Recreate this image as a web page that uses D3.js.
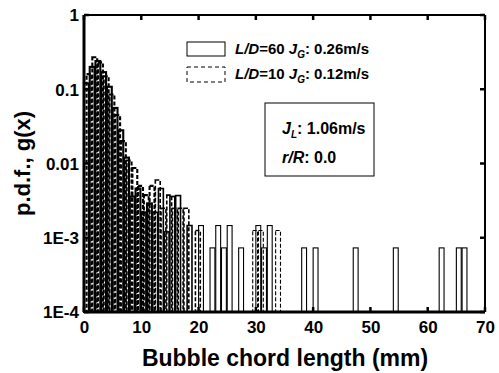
<!DOCTYPE html>
<html>
<head>
<meta charset="utf-8">
<script src="https://cdn.jsdelivr.net/npm/d3@7"></script>
<style>
  html, body { margin: 0; padding: 0; background: #fff; }
  svg { display: block; font-family: "Liberation Sans", Arial, Helvetica, sans-serif; }
</style>
</head>
<body>
<svg id="chart" width="499" height="373"></svg>
<script>
// ---- data (bin start in mm, 1 mm bins) ----
const solidBins   = [0, 1, 2, 3, 4, 5, 6, 7, 8, 9, 10, 11, 12, 13, 14, 15, 16, 18, 20, 22, 23, 24, 25, 27, 30, 31, 32, 38, 40, 47, 54, 62, 65, 66];
const solidValues = [0.12, 0.20, 0.24, 0.17, 0.108, 0.056, 0.028, 0.012, 0.0036, 0.0046, 0.0022, 0.0029, 0.0022, 0.0046, 0.0012, 0.0036, 0.0037, 0.00146, 0.00146, 0.00073, 0.00146, 0.00073, 0.00146, 0.00073, 0.00146, 0.00073, 0.00146, 0.00073, 0.00073, 0.00073, 0.00073, 0.00073, 0.00073, 0.00073];
const dashedBins   = [0, 1, 2, 3, 4, 5, 6, 7, 8, 9, 10, 11, 12, 13, 14, 15, 16, 17, 19, 29, 30, 33];
const dashedValues = [0.16, 0.27, 0.23, 0.15, 0.085, 0.045, 0.02, 0.011, 0.0087, 0.005, 0.00375, 0.005, 0.006, 0.0025, 0.00375, 0.0025, 0.0025, 0.0025, 0.00125, 0.00125, 0.00125, 0.00125];
const xTickValues = [0, 10, 20, 30, 40, 50, 60, 70];
const yTickValues = [1, 0.1, 0.01, 0.001, 0.0001];
const yTickLabels = ["1", "0.1", "0.01", "1E-3", "1E-4"];

const svg = d3.select("#chart");
const L = 84, R = 485, T = 15, B = 312;
const x = d3.scaleLinear().domain([0, 70]).range([L, R]);
const y = d3.scaleLog().domain([1e-4, 1]).range([B, T]);
const barW = 0.85;

// bars
const g = svg.append("g");
g.selectAll("rect.solid").data(solidBins.map((b, i) => ({b, v: solidValues[i]})))
  .enter().append("rect").attr("class", "solid")
  .attr("x", d => x(d.b))
  .attr("width", x(barW) - x(0))
  .attr("y", d => y(d.v))
  .attr("height", d => y(1e-4) - y(d.v))
  .attr("fill", "none").attr("stroke", "#000")
  .attr("stroke-width", d => d.b < 12 ? 2.1 : (d.b < 20 ? 1.6 : 1.1));

g.selectAll("rect.dashed").data(dashedBins.map((b, i) => ({b, v: dashedValues[i]})))
  .enter().append("rect").attr("class", "dashed")
  .attr("x", d => x(d.b + 0.45))
  .attr("width", x(barW) - x(0))
  .attr("y", d => y(d.v))
  .attr("height", d => y(1e-4) - y(d.v))
  .attr("fill", "none").attr("stroke", "#000")
  .attr("stroke-width", d => d.b < 12 ? 2.1 : (d.b < 20 ? 1.6 : 1.1))
  .attr("stroke-dasharray", "4,2");

// axes
const xAxis = d3.axisBottom(x).tickValues(xTickValues).tickSize(0).tickPadding(9).tickFormat(d3.format("d"));
const yAxis = d3.axisLeft(y).tickValues(yTickValues).tickSize(0).tickPadding(5).tickFormat((d, i) => yTickLabels[i]);
const gx = svg.append("g").attr("transform", `translate(0,${B})`).call(xAxis);
const gy = svg.append("g").attr("transform", `translate(${L},0)`).call(yAxis);
[gx, gy].forEach(a => {
  a.select(".domain").remove();
  a.selectAll("text").attr("font-size", 17).attr("font-weight", "bold").attr("fill", "#000")
    .attr("font-family", "Liberation Sans, Arial, sans-serif");
});
gy.selectAll("text").attr("dy", "0.35em");

// inward ticks
const tk = svg.append("g").attr("stroke", "#000").attr("stroke-width", 2.5);
xTickValues.forEach(v => {
  tk.append("line").attr("x1", x(v)).attr("x2", x(v)).attr("y1", B).attr("y2", B - 5);
  tk.append("line").attr("x1", x(v)).attr("x2", x(v)).attr("y1", T).attr("y2", T + 5);
});
yTickValues.forEach(v => {
  tk.append("line").attr("x1", L).attr("x2", L + 5).attr("y1", y(v)).attr("y2", y(v));
  tk.append("line").attr("x1", R).attr("x2", R - 5).attr("y1", y(v)).attr("y2", y(v));
});

// frame
svg.append("line").attr("x1", L).attr("x2", R).attr("y1", B).attr("y2", B).attr("stroke", "#000").attr("stroke-width", 3);
svg.append("line").attr("x1", L).attr("x2", L).attr("y1", T).attr("y2", B).attr("stroke", "#000").attr("stroke-width", 3);
svg.append("line").attr("x1", L).attr("x2", R).attr("y1", T).attr("y2", T).attr("stroke", "#000").attr("stroke-width", 2);
svg.append("line").attr("x1", R).attr("x2", R).attr("y1", T).attr("y2", B).attr("stroke", "#000").attr("stroke-width", 2);

// axis titles
svg.append("text").attr("x", 285).attr("y", 366).attr("text-anchor", "middle")
  .attr("font-size", 23).attr("font-weight", "bold").text("Bubble chord length (mm)");
svg.append("text").attr("transform", `translate(30,${(T + B) / 2}) rotate(-90)`).attr("text-anchor", "middle")
  .attr("font-size", 22).attr("font-weight", "bold").text("p.d.f., g(x)");

// legend
const leg = svg.append("g");
leg.append("rect").attr("x", 187).attr("y", 42).attr("width", 38).attr("height", 14)
  .attr("fill", "#fff").attr("stroke", "#000").attr("stroke-width", 1);
leg.append("rect").attr("x", 187).attr("y", 67).attr("width", 38).attr("height", 15)
  .attr("fill", "#fff").attr("stroke", "#000").attr("stroke-width", 1).attr("stroke-dasharray", "4,3");
function legText(yy, ld, jg) {
  const t = leg.append("text").attr("x", 235).attr("y", yy).attr("font-size", 15).attr("font-weight", "bold");
  t.append("tspan").attr("font-style", "italic").text("L/D");
  t.append("tspan").text("=" + ld + " ");
  t.append("tspan").attr("font-style", "italic").text("J");
  t.append("tspan").attr("font-style", "italic").attr("font-size", 10).attr("dy", 4).text("G");
  t.append("tspan").attr("dy", -4).text(": " + jg);
}
legText(54, "60", "0.26m/s");
legText(79, "10", "0.12m/s");

// info box
svg.append("rect").attr("x", 265).attr("y", 103).attr("width", 109).attr("height", 73)
  .attr("fill", "#fff").attr("stroke", "#000").attr("stroke-width", 1);
const t1 = svg.append("text").attr("x", 282).attr("y", 134).attr("font-size", 16).attr("font-weight", "bold");
t1.append("tspan").attr("font-style", "italic").text("J");
t1.append("tspan").attr("font-style", "italic").attr("font-size", 10).attr("dy", 4).text("L");
t1.append("tspan").attr("dy", -4).text(": 1.06m/s");
const t2 = svg.append("text").attr("x", 282).attr("y", 163).attr("font-size", 16).attr("font-weight", "bold");
t2.append("tspan").attr("font-style", "italic").text("r/R");
t2.append("tspan").text(": 0.0");
</script>
</body>
</html>
